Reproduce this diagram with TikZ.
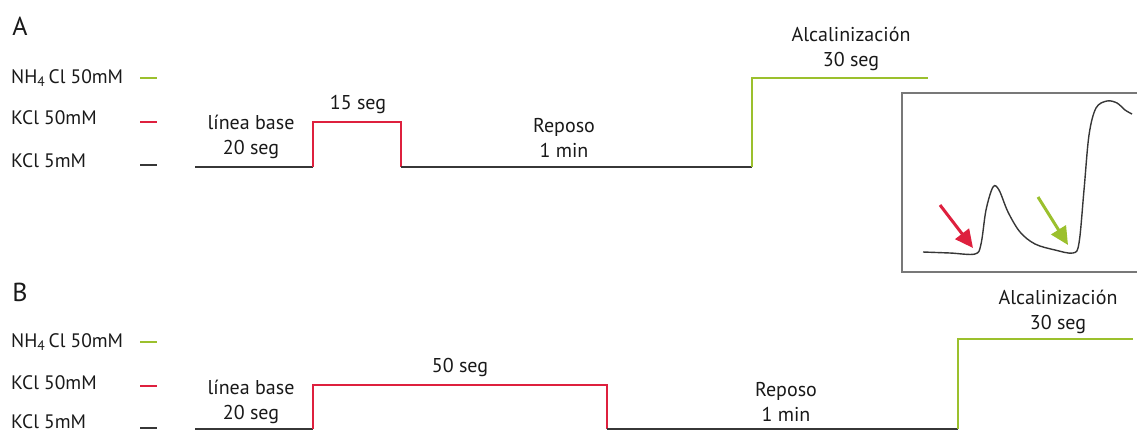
\documentclass[tikz,border=0pt]{standalone}
\usepackage{fontspec}
\setmainfont{PT Sans}
\usetikzlibrary{arrows.meta}
\definecolor{cgreen}{RGB}{155,192,45}
\definecolor{cred}{RGB}{222,32,62}
\definecolor{cblack}{RGB}{55,55,55}
\definecolor{cbox}{RGB}{120,120,120}
\tikzset{
  lbl/.style={font=\fontsize{20}{25}\selectfont, text=black!90, inner sep=0pt, align=center},
  panel/.style={font=\fontsize{26}{28}\selectfont, text=black!90, inner sep=0pt},
  leg/.style={font=\fontsize{19.5}{22}\selectfont, text=black!90, inner sep=0pt, anchor=west},
  trace/.style={line width=2pt},
  legdash/.style={line width=2pt},
}
\begin{document}
\begin{tikzpicture}[x=1pt,y=-1pt]
\useasboundingbox (0,0) rectangle (1137,432);
% ---------- Panel A ----------
\node[panel] (A) at (20,26) {A};
\node[leg] (lA1) at (11,78) {NH\textsubscript{4}\,Cl 50mM};
\node[leg] (lA2) at (11,118) {KCl 50mM};
\node[leg] (lA3) at (11,161) {KCl 5mM};
\coordinate (dA1a) at (140,78); \coordinate (dA1b) at (157,78);
\coordinate (dA2a) at (140,122); \coordinate (dA2b) at (157,122);
\coordinate (dA3a) at (140,165); \coordinate (dA3b) at (157,165);
\draw[legdash,cgreen] (dA1a) -- (dA1b);
\draw[legdash,cred] (dA2a) -- (dA2b);
\draw[legdash,cblack] (dA3a) -- (dA3b);
\coordinate (a0) at (195,167);
\coordinate (a1) at (313,167);
\coordinate (a2) at (401,167);
\coordinate (a3) at (752,167);
\coordinate (a4) at (928,78);
\draw[trace,cblack] (a0) -- (a1);
\draw[trace,cred] (a1) |- (401,122) -- (a2);
\draw[trace,cblack] (a2) -- (a3);
\draw[trace,cgreen] (a3) |- (a4);
\node[lbl] (tA1) at (251,137) {línea base\\20 seg};
\node[lbl] (tA2) at (358,104) {15 seg};
\node[lbl] (tA3) at (564,138) {Reposo\\1 min};
\node[lbl] (tA4) at (851,49) {Alcalinización\\30 seg};
% inset
\draw[cbox,line width=1.5pt] (1140,93) -- (902,93) -- (902,272) -- (1140,272);
\draw[cblack,line width=1.4pt] plot[smooth,tension=0.55] coordinates {
 (923,252) (950,253) (975,254) (981,244) (986,210) (993,187) (999,190) (1008,212) (1020,232) (1035,244) (1055,250) (1073,253) (1079,243) (1084,190) (1089,135) (1096,108) (1107,101) (1117,103) (1125,110) (1132,114)};
\coordinate (ra) at (940,205); \coordinate (rb) at (973,248);
\coordinate (ga) at (1038,197); \coordinate (gb) at (1068,245);
\draw[cred,line width=3pt,-{Triangle[length=18pt,width=17pt]}] (ra) -- (rb);
\draw[cgreen,line width=3pt,-{Triangle[length=18pt,width=17pt]}] (ga) -- (gb);
% ---------- Panel B ----------
\node[panel] (B) at (20,292) {B};
\node[leg] (lB1) at (11,342) {NH\textsubscript{4}\,Cl 50mM};
\node[leg] (lB2) at (11,383) {KCl 50mM};
\node[leg] (lB3) at (11,422) {KCl 5mM};
\coordinate (dB1a) at (140,342); \coordinate (dB1b) at (157,342);
\coordinate (dB2a) at (140,386); \coordinate (dB2b) at (157,386);
\coordinate (dB3a) at (140,428); \coordinate (dB3b) at (157,428);
\draw[legdash,cgreen] (dB1a) -- (dB1b);
\draw[legdash,cred] (dB2a) -- (dB2b);
\draw[legdash,cblack] (dB3a) -- (dB3b);
\coordinate (b0) at (195,429);
\coordinate (b1) at (313,429);
\coordinate (b2) at (607,429);
\coordinate (b3) at (958,429);
\coordinate (b4) at (1133,339);
\draw[trace,cblack] (b0) -- (b1);
\draw[trace,cred] (b1) |- (607,385) -- (b2);
\draw[trace,cblack] (b2) -- (b3);
\draw[trace,cgreen] (b3) |- (b4);
\node[lbl] (tB1) at (251,402) {línea base\\20 seg};
\node[lbl] (tB2) at (460,367) {50 seg};
\node[lbl] (tB3) at (786,402) {Reposo\\1 min};
\node[lbl] (tB4) at (1058,312) {Alcalinización\\30 seg};
\end{tikzpicture}
\end{document}
